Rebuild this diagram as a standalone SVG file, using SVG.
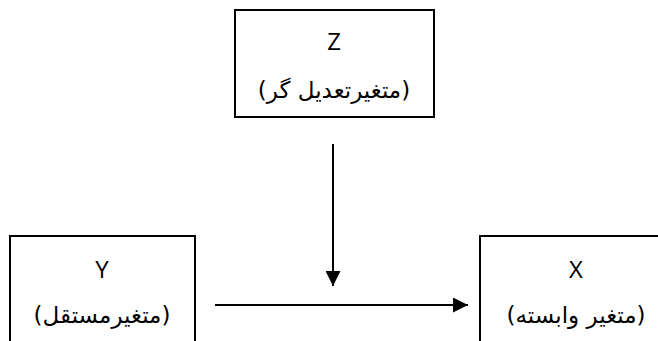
<svg xmlns="http://www.w3.org/2000/svg" width="658" height="341" viewBox="0 0 658 341">
  <style>
    .box { fill: #ffffff; stroke: #000000; stroke-width: 2; }
    .sym { font-family: "Open Sans", "Liberation Sans", sans-serif; font-size: 24px; fill: #000000; text-anchor: middle; }
    .fa { font-family: "DejaVu Sans", "Noto Sans", sans-serif; font-size: 23px; fill: #000000; text-anchor: middle; direction: rtl; unicode-bidi: embed; }
    .wire { fill: none; stroke: #000000; stroke-width: 2; }
  </style>
  <defs>
    <marker id="head" viewBox="0 0 15 15" refX="15" refY="7.5" markerWidth="15" markerHeight="15" markerUnits="userSpaceOnUse" orient="auto">
      <path d="M0,0 L15,7.5 L0,15 Z" fill="#000000"/>
    </marker>
  </defs>

  <g id="connectors">
    <line class="wire" x1="333" y1="144" x2="333" y2="286" marker-end="url(#head)"/>
    <line class="wire" x1="215" y1="305" x2="468" y2="305" marker-end="url(#head)"/>
  </g>

  <g id="node-z">
    <rect class="box" x="235" y="10" width="199" height="107"/>
    <text class="sym" x="334" y="50">Z</text>
    <text class="fa" x="334" y="98">(متغیرتعدیل گر)</text>
  </g>

  <g id="node-y">
    <rect class="box" x="10" y="236" width="185" height="120"/>
    <text class="sym" x="102" y="278">Y</text>
    <text class="fa" x="102" y="323">(متغیرمستقل)</text>
  </g>

  <g id="node-x">
    <rect class="box" x="480" y="236" width="192" height="120"/>
    <text class="sym" x="576" y="278">X</text>
    <text class="fa" x="576" y="323">(متغیر وابسته)</text>
  </g>
</svg>
